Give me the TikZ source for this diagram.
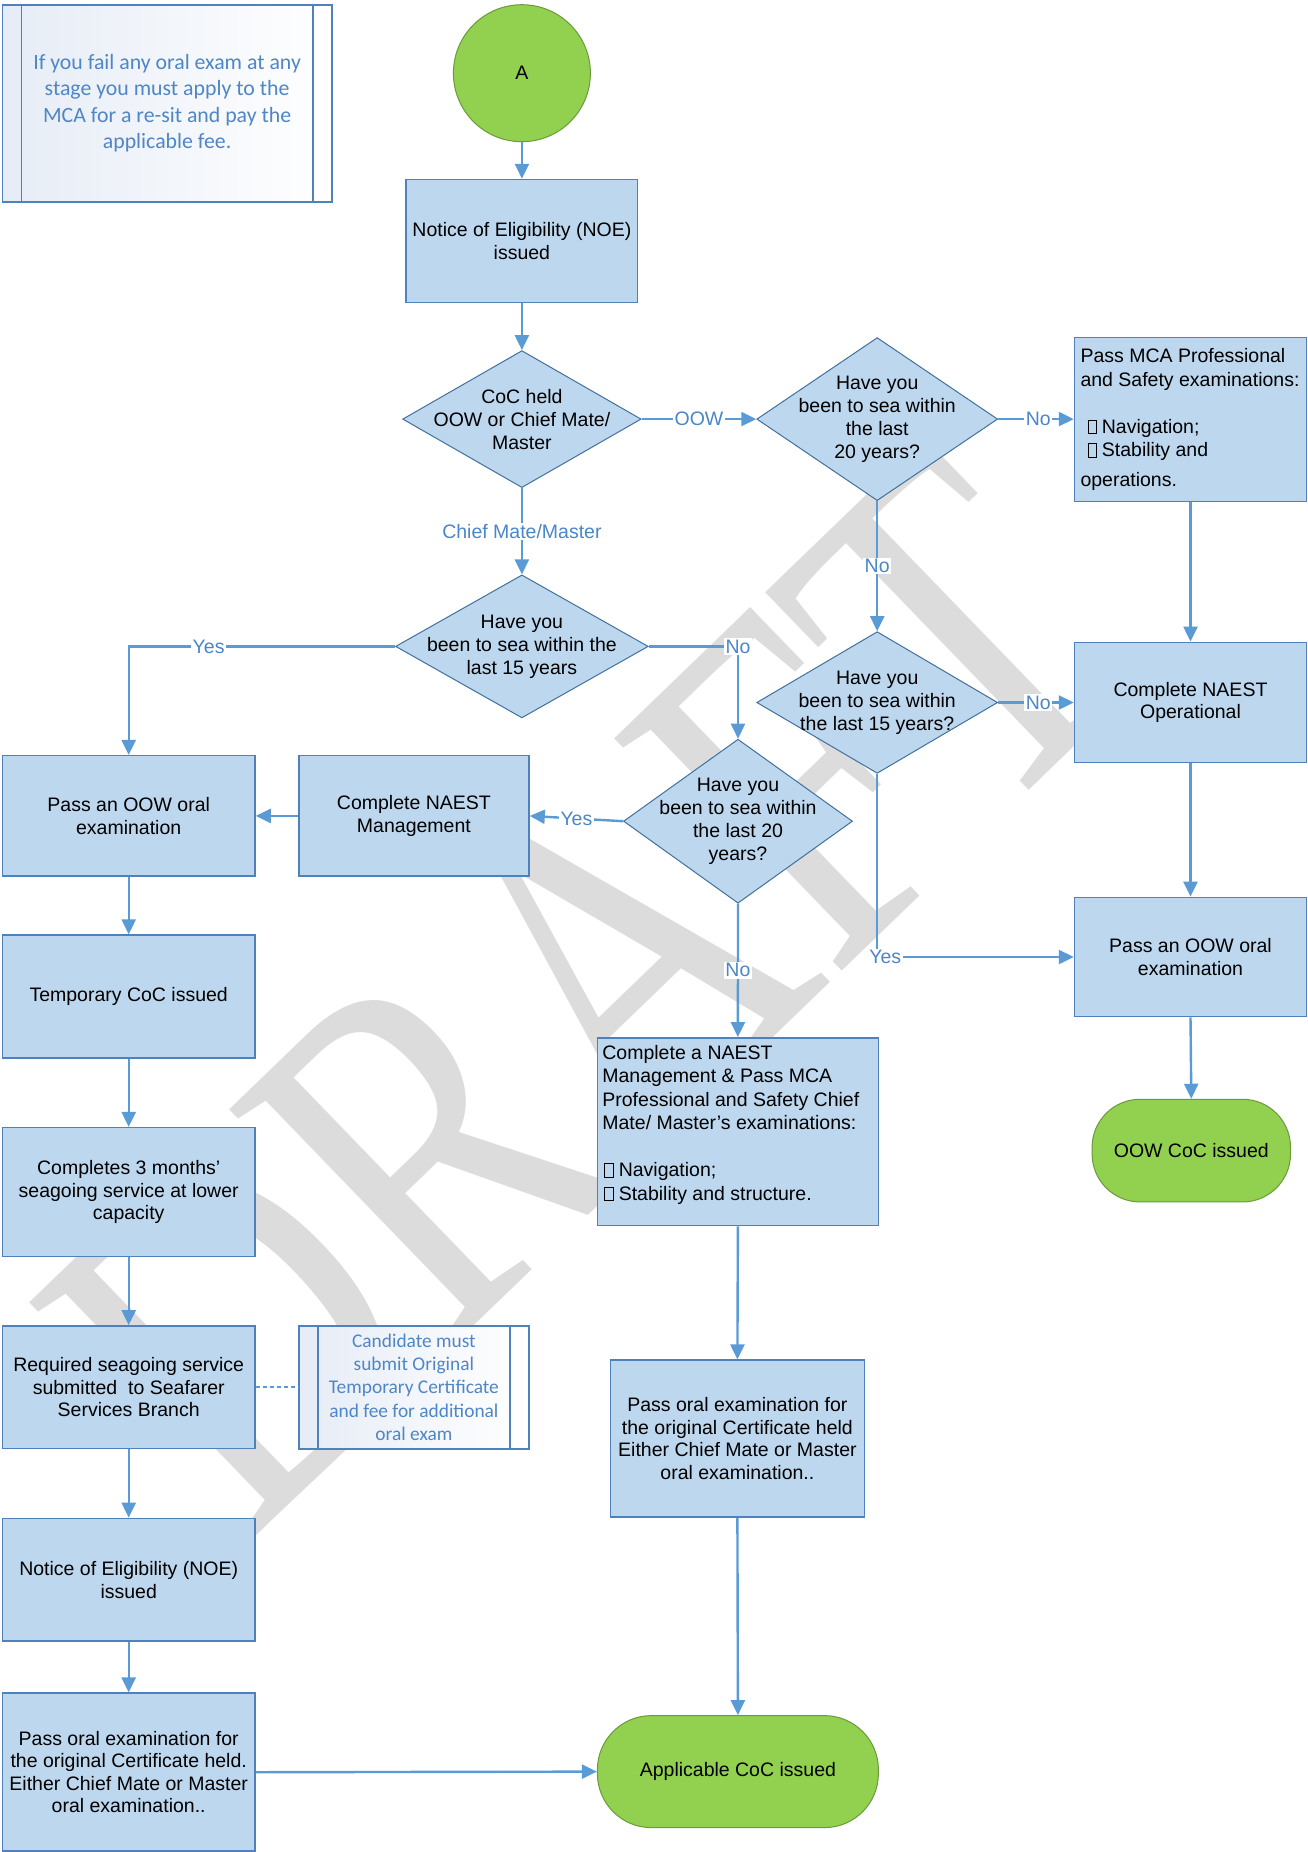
\documentclass[tikz,border=0pt]{standalone}
\usepackage{fontspec}
\setmainfont{Liberation Sans}
\newfontfamily\notefont{Carlito}
\newfontfamily\wmfont{Liberation Serif}
\usetikzlibrary{arrows.meta,shapes.geometric,calc}
\definecolor{boxfill}{HTML}{BDD7EE}
\definecolor{boxline}{HTML}{4F81BD}
\definecolor{dialine}{HTML}{41719C}
\definecolor{conn}{HTML}{5B9BD5}
\definecolor{lbltext}{HTML}{4A86C8}
\definecolor{greenfill}{HTML}{92D050}
\definecolor{greenline}{HTML}{6A9A3A}
\definecolor{notetext}{HTML}{4F86C6}
\definecolor{noteshade}{HTML}{E6ECF6}
\definecolor{wmgray}{HTML}{DCDCDC}
\newcommand{\sqb}{{\fboxsep=0pt\fboxrule=0.7pt\fbox{\rule{0pt}{13pt}\hspace{8pt}}}}
\tikzset{
  box/.style={draw=boxline, line width=1.5pt, fill=boxfill, inner sep=2pt, align=center,
    font=\fontsize{19.5}{22.5}\selectfont},
  dia/.style={diamond, draw=dialine, line width=1pt, fill=boxfill, inner sep=0pt},
  dtext/.style={align=center, inner sep=0pt, font=\fontsize{19.5}{23}\selectfont},
  term/.style={draw=greenline, line width=1pt, fill=greenfill, align=center,
    font=\fontsize{19.5}{22.5}\selectfont},
  arr/.style={draw=conn, line width=2.4pt, -{Triangle[length=15pt,width=14pt]}},
  lbl/.style={fill=white, text=lbltext, inner sep=1.5pt, font=\fontsize{19.5}{22}\selectfont},
  notebox/.style={draw=boxline, line width=1.8pt, left color=noteshade, right color=white,
    text=notetext, align=center, inner sep=0pt},
  noteline/.style={draw=boxline, line width=1.8pt},
  listtext/.style={align=left, anchor=north west, inner sep=0pt,
    font=\fontsize{19.5}{23.5}\selectfont}
}
\begin{document}
\begin{tikzpicture}[x=1pt,y=-1pt]
\useasboundingbox (0,0) rectangle (1307,1852);
\fill[white] (0,0) rectangle (1307,1852);
% watermark
\node[text=wmgray, rotate=44, inner sep=0pt, font=\wmfont\fontsize{385}{385}\selectfont] (wm) at (588,989) {\scalebox{1}[1.29]{DRAFT}};

% note 1
\node[notebox, minimum width=329.4pt, minimum height=197.2pt,
  font=\notefont\fontsize{21.8}{26.3}\selectfont] (note1) at (167.1,103.3)
  {If you fail any oral exam at any\\stage you must apply to the\\MCA for a re-sit and pay the\\applicable fee.};
\draw[noteline] ($(note1.north west)+(20,0)$) -- ($(note1.south west)+(20,0)$);
\draw[noteline] ($(note1.north east)+(-20,0)$) -- ($(note1.south east)+(-20,0)$);

% start
\node[circle, draw=greenline, line width=1pt, fill=greenfill, minimum size=137pt, inner sep=0pt,
  font=\fontsize{19.5}{22.5}\selectfont] (start) at (521.9,73.2) {A};

\node[box, minimum width=231.4pt, minimum height=122.8pt] (noe1) at (521.9,240.9) {Notice of Eligibility (NOE)\\issued};

\node[dia, minimum width=238.5pt, minimum height=137pt] (coc) at (521.9,419.1) {};
\node[dtext] (coct) at (coc.center) {CoC held\\OOW or Chief Mate/\\Master};

\node[dia, minimum width=240.9pt, minimum height=163pt] (dA) at (877.2,419.1) {};
\node[dtext] (dAt) at (dA.center) {Have you\\been to sea within\\the last\\20 years?};

\node[box, minimum width=232pt, minimum height=164pt] (mca) at (1190.5,419.7) {};
\node[listtext] (mcat) at (1080.3,348.5) {Pass MCA Professional\\and Safety examinations:\\[23.5pt]\hspace{7pt}\sqb\hspace{5pt}Navigation;\\\hspace{7pt}\sqb\hspace{5pt}Stability and\\[6pt]operations.};

\node[dia, minimum width=252.7pt, minimum height=143pt] (dB) at (521.9,646.4) {};
\node[dtext] (dBt) at (dB.center) {Have you\\been to sea within the\\last 15 years};

\node[dia, minimum width=240.9pt, minimum height=141.7pt] (dC) at (877.2,702.5) {};
\node[dtext] (dCt) at (dC.center) {Have you\\been to sea within\\the last 15 years?};

\node[box, minimum width=232pt, minimum height=120.4pt] (nop) at (1190.5,702.5) {Complete NAEST\\Operational};

\node[dia, minimum width=229pt, minimum height=164pt] (dD) at (738,821.2) {};
\node[dtext] (dDt) at (dD.center) {Have you\\been to sea within\\the last 20\\years?};

\node[box, minimum width=252.6pt, minimum height=120.4pt] (oowl) at (128.7,815.9) {Pass an OOW oral\\examination};
\node[box, minimum width=230.3pt, minimum height=120.4pt] (nmg) at (413.9,815.9) {Complete NAEST\\Management};
\node[box, minimum width=232pt, minimum height=119.3pt] (oowr) at (1190.5,957) {Pass an OOW oral\\examination};

\node[term, minimum width=198.4pt, minimum height=102.7pt, rounded corners=48pt] (oowcoc) at (1191.3,1150.6) {OOW CoC issued};

\node[box, minimum width=252.6pt, minimum height=122.8pt] (tmp) at (128.7,996.5) {Temporary CoC issued};

\node[box, minimum width=281pt, minimum height=187.8pt] (nmca) at (737.9,1131.7) {};
\node[listtext] (nmcat) at (602.2,1045) {Complete a NAEST\\Management \& Pass MCA\\Professional and Safety Chief\\Mate/ Master's examinations:\\[23.5pt]\hspace{2pt}\sqb\hspace{5pt}Navigation;\\\hspace{2pt}\sqb\hspace{5pt}Stability and structure.};

\node[box, minimum width=252.6pt, minimum height=128.7pt] (three) at (128.7,1192) {Completes 3 months'\\seagoing service at lower\\capacity};

\node[box, minimum width=252.6pt, minimum height=122.8pt] (req) at (128.7,1387.3) {Required seagoing service\\submitted\ \ to Seafarer\\Services Branch};

\node[notebox, minimum width=230.3pt, minimum height=122.8pt,
  font=\notefont\fontsize{19.4}{23.3}\selectfont] (note2) at (413.9,1387.3)
  {Candidate must\\submit Original\\Temporary Certificate\\and fee for additional\\oral exam};
\draw[noteline] ($(note2.north west)+(20,0)$) -- ($(note2.south west)+(20,0)$);
\draw[noteline] ($(note2.north east)+(-20,0)$) -- ($(note2.south east)+(-20,0)$);

\node[box, minimum width=253.9pt, minimum height=157pt] (porm) at (737.4,1438.7) {Pass oral examination for\\the original Certificate held\\Either Chief Mate or Master\\oral examination..};

\node[box, minimum width=252.6pt, minimum height=122.8pt] (noe2) at (128.7,1579.8) {Notice of Eligibility (NOE)\\issued};

\node[box, minimum width=252.6pt, minimum height=158pt] (porl) at (128.7,1772.2) {Pass oral examination for\\the original Certificate held.\\Either Chief Mate or Master\\oral examination..};

\node[term, minimum width=281pt, minimum height=112pt, rounded corners=54pt] (app) at (737.9,1771.6) {Applicable CoC issued};

% connectors
\draw[arr] (start) -- (noe1);
\draw[arr] (noe1) -- (coc);
\draw[arr] (coc.east) -- node[lbl, pos=0.5] {OOW} (dA.west);
\draw[arr] (coc.south) -- node[lbl, pos=0.5] {Chief Mate/Master} (dB.north);
\draw[arr] (dA.east) -- node[lbl, pos=0.53] {No} (dA.east -| mca.west);
\draw[arr] (dA.south) -- node[lbl, pos=0.5] {No} (dC.north);
\draw[arr] (mca.south) -- (nop.north);
\draw[arr] (dC.east) -- node[lbl, pos=0.53] {No} (nop.west);
\draw[arr] (nop.south) -- (oowr.north);
\draw[arr] (oowr.south) -- (oowcoc.north);
\draw[arr] (dC.south) |- node[lbl, pos=0.5, xshift=8pt] {Yes} (oowr.west);
\draw[arr] (dB.west) -| node[lbl, pos=0.35] {Yes} (oowl.north);
\draw[arr] (dB.east) -| node[lbl, pos=0.5] {No} (dD.north);
\draw[arr] (dD.west) -- node[lbl, pos=0.5] {Yes} (nmg.east);
\draw[arr] (nmg.west) -- (oowl.east);
\draw[arr] (dD.south) -- node[lbl, pos=0.5] {No} (nmca.north);
\draw[arr] (oowl.south) -- (tmp.north);
\draw[arr] (tmp.south) -- (three.north);
\draw[arr] (three.south) -- (req.north);
\draw[arr] (req.south) -- (noe2.north);
\draw[arr] (noe2.south) -- (porl.north);
\draw[draw=conn, line width=2pt, dash pattern=on 4pt off 3pt] (req.east) -- (note2.west);
\draw[arr] (nmca.south) -- (porm.north);
\draw[arr] (porm.south) -- (app.north);
\draw[arr] (porl.east) -- (app.west);
\end{tikzpicture}
\end{document}
